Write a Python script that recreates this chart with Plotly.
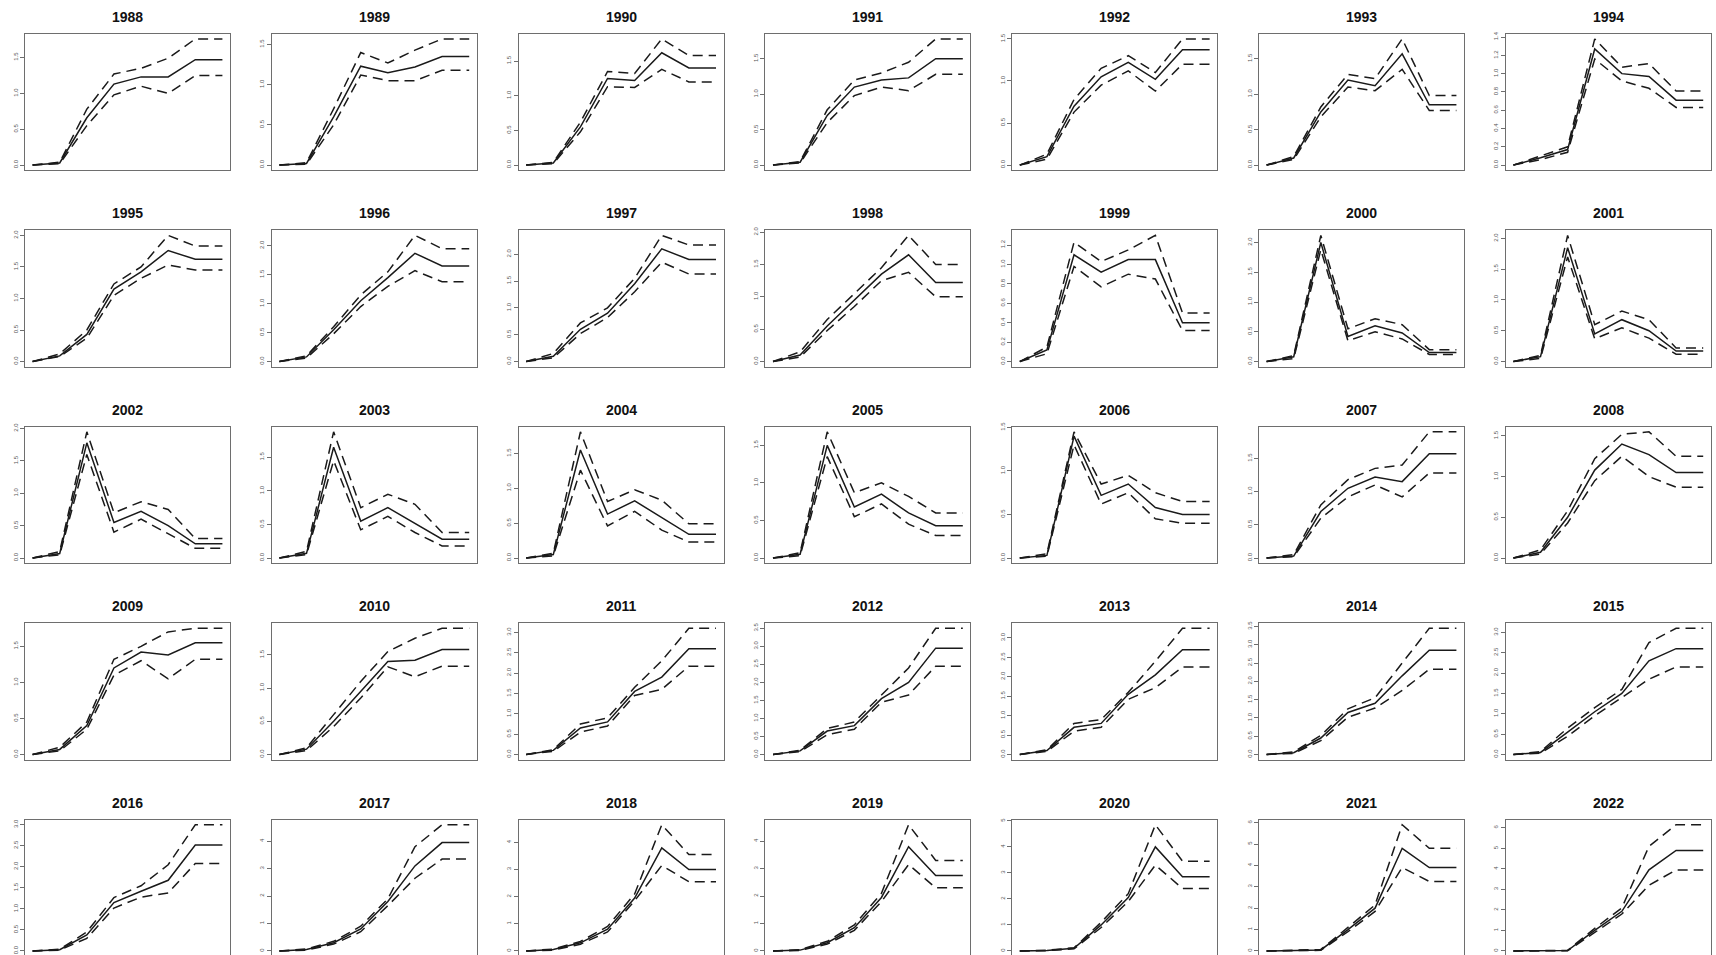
import plotly.graph_objects as go

YEARS = list(range(1988, 2023))
X_STEPS = [1, 2, 3, 4, 5, 6, 7, 8]

MID = [
    [0, 0.03, 0.66, 1.13, 1.23, 1.23, 1.47, 1.47],
    [0, 0.02, 0.60, 1.23, 1.15, 1.22, 1.35, 1.35],
    [0, 0.03, 0.55, 1.25, 1.22, 1.62, 1.40, 1.40],
    [0, 0.04, 0.70, 1.10, 1.20, 1.23, 1.50, 1.50],
    [0, 0.10, 0.70, 1.05, 1.22, 1.02, 1.37, 1.37],
    [0, 0.10, 0.75, 1.20, 1.12, 1.57, 0.85, 0.85],
    [0, 0.08, 0.17, 1.27, 1.00, 0.97, 0.71, 0.71],
    [0, 0.09, 0.43, 1.15, 1.42, 1.76, 1.62, 1.62],
    [0, 0.08, 0.55, 1.05, 1.45, 1.87, 1.65, 1.65],
    [0, 0.10, 0.60, 0.90, 1.45, 2.10, 1.90, 1.90],
    [0, 0.10, 0.55, 0.95, 1.35, 1.65, 1.22, 1.22],
    [0, 0.12, 1.10, 0.92, 1.05, 1.05, 0.40, 0.40],
    [0, 0.08, 2.00, 0.42, 0.60, 0.48, 0.15, 0.15],
    [0, 0.08, 1.85, 0.45, 0.68, 0.50, 0.17, 0.17],
    [0, 0.07, 1.78, 0.55, 0.72, 0.50, 0.22, 0.22],
    [0, 0.07, 1.65, 0.55, 0.75, 0.52, 0.28, 0.28],
    [0, 0.05, 1.55, 0.63, 0.82, 0.58, 0.34, 0.34],
    [0, 0.05, 1.50, 0.68, 0.85, 0.60, 0.43, 0.43],
    [0, 0.03, 1.40, 0.72, 0.85, 0.58, 0.50, 0.50],
    [0, 0.03, 0.70, 1.05, 1.22, 1.15, 1.57, 1.57],
    [0, 0.07, 0.50, 1.08, 1.40, 1.27, 1.05, 1.05],
    [0, 0.07, 0.40, 1.20, 1.42, 1.38, 1.55, 1.55],
    [0, 0.08, 0.50, 0.95, 1.40, 1.42, 1.58, 1.58],
    [0, 0.10, 0.65, 0.80, 1.55, 1.90, 2.60, 2.60],
    [0, 0.10, 0.65, 0.80, 1.55, 2.00, 2.95, 2.95],
    [0, 0.10, 0.70, 0.80, 1.55, 2.05, 2.70, 2.70],
    [0, 0.05, 0.45, 1.15, 1.40, 2.15, 2.85, 2.85],
    [0, 0.05, 0.55, 1.05, 1.50, 2.30, 2.60, 2.60],
    [0, 0.03, 0.38, 1.15, 1.42, 1.68, 2.52, 2.52],
    [0, 0.05, 0.30, 0.80, 1.80, 3.10, 3.95, 3.95],
    [0, 0.05, 0.30, 0.80, 1.95, 3.80, 3.00, 3.00],
    [0, 0.03, 0.30, 0.85, 1.95, 3.80, 2.75, 2.75],
    [0, 0.02, 0.10, 1.00, 2.05, 4.00, 2.85, 2.85],
    [0, 0.02, 0.05, 1.00, 2.00, 4.80, 3.90, 3.90],
    [0, 0.00, 0.02, 1.00, 1.93, 3.95, 4.90, 4.90],
]

UPPER = [
    [0, 0.04, 0.78, 1.27, 1.35, 1.49, 1.76, 1.76],
    [0, 0.03, 0.70, 1.40, 1.27, 1.43, 1.57, 1.57],
    [0, 0.04, 0.62, 1.35, 1.32, 1.82, 1.58, 1.58],
    [0, 0.05, 0.78, 1.20, 1.30, 1.45, 1.78, 1.78],
    [0, 0.13, 0.78, 1.15, 1.30, 1.10, 1.50, 1.50],
    [0, 0.12, 0.82, 1.28, 1.22, 1.78, 0.98, 0.98],
    [0, 0.10, 0.20, 1.38, 1.07, 1.11, 0.81, 0.81],
    [0, 0.12, 0.50, 1.23, 1.50, 2.00, 1.83, 1.83],
    [0, 0.10, 0.60, 1.15, 1.55, 2.18, 1.95, 1.95],
    [0, 0.15, 0.72, 1.00, 1.55, 2.35, 2.17, 2.17],
    [0, 0.15, 0.65, 1.05, 1.45, 1.95, 1.50, 1.50],
    [0, 0.15, 1.23, 1.03, 1.15, 1.30, 0.50, 0.50],
    [0, 0.10, 2.12, 0.55, 0.72, 0.62, 0.20, 0.20],
    [0, 0.10, 2.05, 0.60, 0.82, 0.68, 0.22, 0.22],
    [0, 0.10, 1.95, 0.70, 0.87, 0.75, 0.30, 0.30],
    [0, 0.10, 1.88, 0.75, 0.95, 0.80, 0.38, 0.38],
    [0, 0.07, 1.81, 0.81, 0.98, 0.83, 0.49, 0.49],
    [0, 0.07, 1.68, 0.87, 1.00, 0.82, 0.60, 0.60],
    [0, 0.05, 1.45, 0.85, 0.95, 0.75, 0.65, 0.65],
    [0, 0.05, 0.80, 1.18, 1.35, 1.40, 1.90, 1.90],
    [0, 0.10, 0.58, 1.22, 1.52, 1.55, 1.25, 1.25],
    [0, 0.10, 0.45, 1.32, 1.50, 1.70, 1.75, 1.75],
    [0, 0.10, 0.60, 1.10, 1.55, 1.75, 1.90, 1.90],
    [0, 0.12, 0.75, 0.90, 1.65, 2.30, 3.10, 3.10],
    [0, 0.12, 0.72, 0.90, 1.65, 2.40, 3.50, 3.50],
    [0, 0.12, 0.80, 0.90, 1.60, 2.40, 3.25, 3.25],
    [0, 0.07, 0.52, 1.25, 1.55, 2.50, 3.45, 3.45],
    [0, 0.07, 0.65, 1.15, 1.60, 2.75, 3.10, 3.10],
    [0, 0.04, 0.45, 1.27, 1.55, 2.05, 3.00, 3.00],
    [0, 0.07, 0.35, 0.90, 1.90, 3.80, 4.60, 4.60],
    [0, 0.07, 0.35, 0.90, 2.10, 4.65, 3.55, 3.55],
    [0, 0.05, 0.35, 0.95, 2.10, 4.60, 3.30, 3.30],
    [0, 0.03, 0.12, 1.10, 2.20, 4.85, 3.45, 3.45],
    [0, 0.03, 0.07, 1.10, 2.15, 5.90, 4.80, 4.80],
    [0, 0.00, 0.03, 1.10, 2.10, 5.10, 6.15, 6.15],
]

LOWER = [
    [0, 0.02, 0.55, 0.98, 1.10, 1.00, 1.25, 1.25],
    [0, 0.01, 0.50, 1.12, 1.05, 1.05, 1.18, 1.18],
    [0, 0.02, 0.48, 1.13, 1.12, 1.38, 1.20, 1.20],
    [0, 0.03, 0.60, 0.98, 1.10, 1.05, 1.28, 1.28],
    [0, 0.07, 0.63, 0.95, 1.12, 0.88, 1.20, 1.20],
    [0, 0.08, 0.68, 1.10, 1.05, 1.35, 0.77, 0.77],
    [0, 0.06, 0.14, 1.16, 0.92, 0.84, 0.63, 0.63],
    [0, 0.08, 0.37, 1.05, 1.32, 1.53, 1.45, 1.45],
    [0, 0.06, 0.48, 0.95, 1.30, 1.57, 1.38, 1.38],
    [0, 0.07, 0.52, 0.82, 1.30, 1.85, 1.63, 1.63],
    [0, 0.07, 0.48, 0.85, 1.25, 1.38, 1.00, 1.00],
    [0, 0.08, 0.98, 0.77, 0.90, 0.85, 0.32, 0.32],
    [0, 0.05, 1.88, 0.35, 0.50, 0.38, 0.12, 0.12],
    [0, 0.05, 1.70, 0.37, 0.55, 0.38, 0.12, 0.12],
    [0, 0.05, 1.60, 0.40, 0.60, 0.37, 0.15, 0.15],
    [0, 0.05, 1.45, 0.42, 0.62, 0.38, 0.18, 0.18],
    [0, 0.03, 1.26, 0.46, 0.67, 0.40, 0.23, 0.23],
    [0, 0.03, 1.35, 0.55, 0.72, 0.45, 0.30, 0.30],
    [0, 0.02, 1.30, 0.62, 0.75, 0.45, 0.40, 0.40],
    [0, 0.02, 0.60, 0.92, 1.10, 0.92, 1.28, 1.28],
    [0, 0.05, 0.43, 0.95, 1.25, 1.00, 0.87, 0.87],
    [0, 0.05, 0.35, 1.10, 1.30, 1.05, 1.32, 1.32],
    [0, 0.06, 0.42, 0.85, 1.32, 1.17, 1.33, 1.33],
    [0, 0.08, 0.55, 0.70, 1.45, 1.60, 2.17, 2.17],
    [0, 0.08, 0.55, 0.70, 1.45, 1.65, 2.45, 2.45],
    [0, 0.08, 0.60, 0.70, 1.42, 1.72, 2.25, 2.25],
    [0, 0.03, 0.38, 1.02, 1.27, 1.75, 2.33, 2.33],
    [0, 0.03, 0.45, 0.95, 1.40, 1.85, 2.15, 2.15],
    [0, 0.02, 0.30, 1.02, 1.28, 1.38, 2.08, 2.08],
    [0, 0.03, 0.25, 0.70, 1.65, 2.65, 3.35, 3.35],
    [0, 0.03, 0.25, 0.70, 1.85, 3.15, 2.55, 2.55],
    [0, 0.02, 0.25, 0.75, 1.80, 3.15, 2.30, 2.30],
    [0, 0.01, 0.08, 0.90, 1.90, 3.30, 2.40, 2.40],
    [0, 0.01, 0.03, 0.90, 1.85, 3.90, 3.25, 3.25],
    [0, 0.00, 0.01, 0.90, 1.80, 3.20, 3.95, 3.95],
]

TICK_STEPS = [
    0.5, 0.5, 0.5, 0.5, 0.5, 0.5, 0.2,
    0.5, 0.5, 0.5, 0.5, 0.2, 0.5, 0.5,
    0.5, 0.5, 0.5, 0.5, 0.5, 0.5, 0.5,
    0.5, 0.5, 0.5, 0.5, 0.5, 0.5, 0.5,
    0.5, 1, 1, 1, 1, 1, 1,
]

W, H = 1716, 955
NCOL = 7
COL_PITCH = 246.8
ROW_PITCH = 197.5
BOX_LEFT0 = 25
BOX_W = 205
BOX_TOP0 = 29
BOX_H = 137
TITLE_Y0 = 12

LINE_COLOR = "#1a1a1a"
BOX_COLOR = "#6e6e6e"

fig = go.Figure()
layout = dict(
    width=W, height=H, margin=dict(l=0, r=0, t=0, b=0),
    paper_bgcolor="white", plot_bgcolor="white", showlegend=False,
)
annotations = []

for i, year in enumerate(YEARS):
    r, c = divmod(i, NCOL)
    n = i + 1
    xname = "x" if n == 1 else f"x{n}"
    yname = "y" if n == 1 else f"y{n}"
    left = BOX_LEFT0 + COL_PITCH * c
    right = left + BOX_W
    top = BOX_TOP0 + ROW_PITCH * r
    bottom = top + BOX_H

    ymax = max(max(UPPER[i]), max(MID[i]), max(LOWER[i]))
    ymin = min(min(UPPER[i]), min(MID[i]), min(LOWER[i]))
    span = ymax - ymin
    lo = ymin - 0.04 * span
    hi = ymax + 0.04 * span
    last_row = bottom > H
    if last_row:
        lo = lo + (bottom - H) / BOX_H * (hi - lo)
        bottom = H

    xlo = X_STEPS[0] - 0.04 * (X_STEPS[-1] - X_STEPS[0])
    xhi = X_STEPS[-1] + 0.04 * (X_STEPS[-1] - X_STEPS[0])

    for vals, dash in ((UPPER[i], "10px,6px"), (LOWER[i], "10px,6px"), (MID[i], "solid")):
        fig.add_trace(go.Scatter(
            x=X_STEPS, y=vals, mode="lines",
            line=dict(color=LINE_COLOR, width=1.5, dash=dash),
            xaxis=xname, yaxis=yname, hoverinfo="skip",
        ))

    step = TICK_STEPS[i]
    layout["xaxis" if n == 1 else f"xaxis{n}"] = dict(
        domain=[left / W, right / W], anchor=yname, range=[xlo, xhi],
        showgrid=False, zeroline=False, showticklabels=False, ticks="",
        showline=True, linecolor=BOX_COLOR, linewidth=1,
        mirror=False if last_row else True,
        side="top" if last_row else "bottom",
    )
    layout["yaxis" if n == 1 else f"yaxis{n}"] = dict(
        domain=[1 - bottom / H, 1 - top / H], anchor=xname, range=[lo, hi],
        showgrid=False, zeroline=False,
        showline=True, linecolor=BOX_COLOR, linewidth=1, mirror=True,
        ticks="outside", ticklen=4, tickwidth=1, tickcolor=BOX_COLOR,
        tickmode="linear", tick0=0, dtick=step,
        tickformat=".1f" if step < 1 else "d",
        tickangle=-90,
        tickfont=dict(family="Liberation Sans, Arial, sans-serif", size=6, color="#555555"),
    )
    annotations.append(dict(
        text=f"<b>{year}</b>", x=(left + right) / 2 / W, y=1 - (TITLE_Y0 + ROW_PITCH * r) / H,
        xref="paper", yref="paper", xanchor="center", yanchor="middle",
        showarrow=False,
        font=dict(family="Liberation Sans, Arial, sans-serif", size=14, color="#111111"),
    ))

layout["annotations"] = annotations
fig.update_layout(**layout)
fig.write_html("out.html")
